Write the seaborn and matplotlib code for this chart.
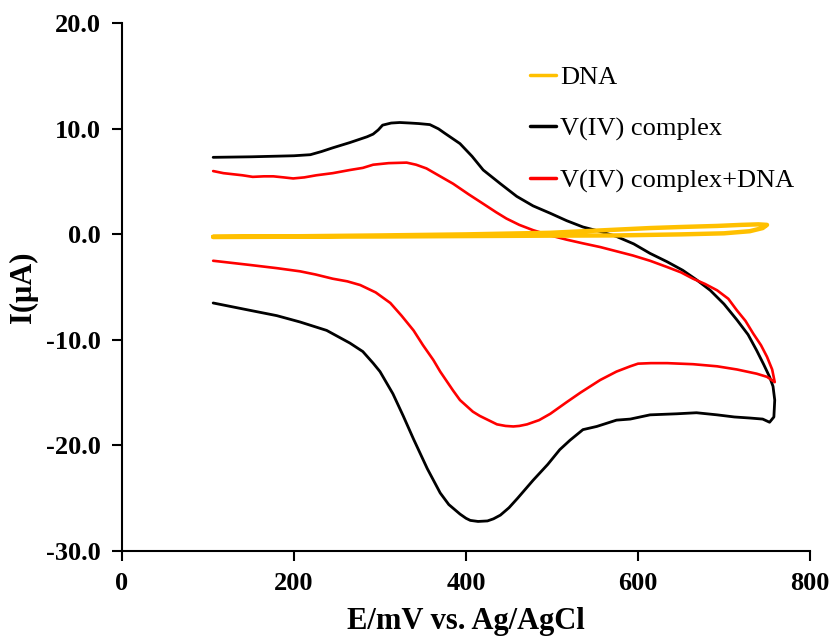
import matplotlib
matplotlib.use("Agg")
import matplotlib.pyplot as plt
import seaborn as sns
import pandas as pd

# Cyclic voltammograms: potential (mV vs. Ag/AgCl) and current (µA), traced around each loop
dna_E = [106, 200, 300, 400, 500, 575, 650, 700, 730, 745, 750,
         740, 720, 692, 650, 614, 550, 498, 400, 300, 200, 106]
dna_I = [-0.25, -0.22, -0.2, -0.16, -0.12, -0.1, 0.0, 0.1, 0.3, 0.6, 0.9,
         0.95, 0.9, 0.8, 0.7, 0.6, 0.35, 0.15, 0.0, -0.1, -0.18, -0.22]

vc_E = [106, 150, 200, 219, 232, 245, 265, 285, 292, 298, 303, 313, 323, 335,
        345, 358, 368, 375, 384, 393, 407, 420, 440, 459, 478, 498, 517, 536,
        555, 575, 595, 614, 634, 652, 668, 684, 700, 715, 728, 738, 746, 753,
        757, 759, 758, 753,
        745, 730, 712, 692, 668, 645, 614, 591, 575, 552, 536, 521, 509, 495,
        478, 460, 450, 440, 432, 425, 414, 405, 400, 393, 380, 370, 355, 339,
        327, 315, 300, 292, 280, 265, 238, 207, 180, 149, 106]
vc_I = [7.3, 7.35, 7.45, 7.55, 7.85, 8.2, 8.7, 9.25, 9.5, 9.9, 10.35, 10.55,
        10.6, 10.55, 10.5, 10.4, 10.0, 9.6, 9.1, 8.6, 7.4, 6.1, 4.8, 3.6, 2.7,
        2.0, 1.3, 0.7, 0.3, -0.2, -0.9, -1.8, -2.6, -3.4, -4.3, -5.3, -6.6,
        -8.1, -9.5, -11.0, -12.3, -13.5, -14.4, -15.7, -17.3, -17.8,
        -17.5, -17.4, -17.3, -17.1, -16.9, -17.0, -17.1, -17.5, -17.6, -18.2,
        -18.5, -19.5, -20.4, -21.8, -23.3, -25.0, -25.9, -26.6, -26.95, -27.15,
        -27.2, -27.1, -26.9, -26.5, -25.6, -24.5, -22.2, -19.4, -17.2, -15.1,
        -13.0, -12.2, -11.1, -10.3, -9.1, -8.3, -7.7, -7.2, -6.5]

vcd_E = [106, 118, 129, 140, 152, 165, 176, 188, 199, 212, 226, 245, 265, 280,
         292, 310, 331, 342, 354, 370, 385, 403, 420, 435, 447, 462, 478, 498,
         517, 536, 556, 575, 594, 614, 634, 650, 664, 678, 692, 705, 715, 725,
         734, 743, 750, 756, 759,
         750, 738, 715, 692, 664, 634, 615, 600, 591, 575, 556, 533, 517, 498,
         485, 471, 462, 455, 446, 436, 426, 416, 408, 393, 385, 370, 362, 350,
         339, 325, 312, 295, 277, 262, 245, 225, 207, 180, 149, 106]
vcd_I = [6.0, 5.8, 5.7, 5.6, 5.45, 5.5, 5.5, 5.4, 5.3, 5.4, 5.6, 5.8, 6.1, 6.3,
         6.6, 6.75, 6.8, 6.6, 6.25, 5.5, 4.8, 3.8, 2.9, 2.1, 1.5, 0.9, 0.4, -0.1,
         -0.5, -0.85, -1.2, -1.6, -2.0, -2.5, -3.1, -3.6, -4.2, -4.7, -5.3, -6.1,
         -7.2, -8.2, -9.4, -10.5, -11.6, -12.8, -14.0,
         -13.5, -13.2, -12.8, -12.5, -12.3, -12.2, -12.2, -12.25, -12.5, -13.0,
         -13.8, -15.0, -15.9, -17.0, -17.6, -18.0, -18.15, -18.2, -18.15, -18.0,
         -17.6, -17.2, -16.8, -15.7, -14.8, -13.0, -11.9, -10.5, -9.1, -7.7,
         -6.5, -5.5, -4.8, -4.45, -4.2, -3.8, -3.5, -3.2, -2.9, -2.5]

labels = ["DNA", "V(IV) complex", "V(IV) complex+DNA"]
colors = ["#FFC000", "#000000", "#FF0000"]
x_ticks = [0, 200, 400, 600, 800]
y_ticks = [-30, -20, -10, 0, 10, 20]

sns.set_style("ticks")
plt.rcParams["font.family"] = ["Liberation Serif", "DejaVu Serif"]
plt.rcParams["text.color"] = "black"
plt.rcParams["axes.labelcolor"] = "black"
plt.rcParams["xtick.color"] = "black"
plt.rcParams["ytick.color"] = "black"

fig = plt.figure(figsize=(8.36, 6.44), dpi=100)
ax = fig.add_axes([122 / 836, 1 - 551 / 644, 688 / 836, (551 - 23.3) / 644])

curves = [(dna_E, dna_I, 3.2, 4), (vc_E, vc_I, 2.0, 2), (vcd_E, vcd_I, 1.9, 3)]
for (E, I, lw, z), lab, col in zip(curves, labels, colors):
    df = pd.DataFrame({"E": E, "I": I})
    sns.lineplot(data=df, x="E", y="I", sort=False, estimator=None, ax=ax,
                 color=col, linewidth=lw, label=lab, zorder=z)
for line in ax.get_lines():
    line.set_solid_joinstyle("round")

ax.set_xlim(0, 800)
ax.set_ylim(-30, 20)
ax.set_xticks(x_ticks)
ax.set_yticks(y_ticks)
ax.set_xticklabels([str(v) for v in x_ticks])
ax.set_yticklabels([f"{v:.1f}" for v in y_ticks])
ax.tick_params(axis="both", direction="out", length=7, width=1.5, labelsize=19,
               color="black", labelcolor="black", pad=8)
for t in ax.get_xticklabels() + ax.get_yticklabels():
    t.set_fontweight("bold")
for s in ["left", "bottom"]:
    ax.spines[s].set_linewidth(1.5)
    ax.spines[s].set_color("black")
sns.despine(ax=ax)

ax.set_xlabel("E/mV vs. Ag/AgCl", fontsize=22, fontweight="bold", labelpad=9,
              color="black")
ax.set_ylabel("I(μA)", fontsize=22, fontweight="bold", labelpad=6, color="black")

handles, labs = ax.get_legend_handles_labels()
leg = ax.legend(handles, labs, loc="upper left", frameon=False, fontsize=19,
                handlelength=1.0, handletextpad=0.15, labelspacing=1.05,
                borderpad=0, borderaxespad=0,
                bbox_to_anchor=(530 / 836, 1 - 66 / 644),
                bbox_transform=fig.transFigure)
for line in leg.get_lines():
    line.set_linewidth(2.5)
for t in leg.get_texts():
    t.set_color("black")

fig.savefig("out.png", dpi=100)
